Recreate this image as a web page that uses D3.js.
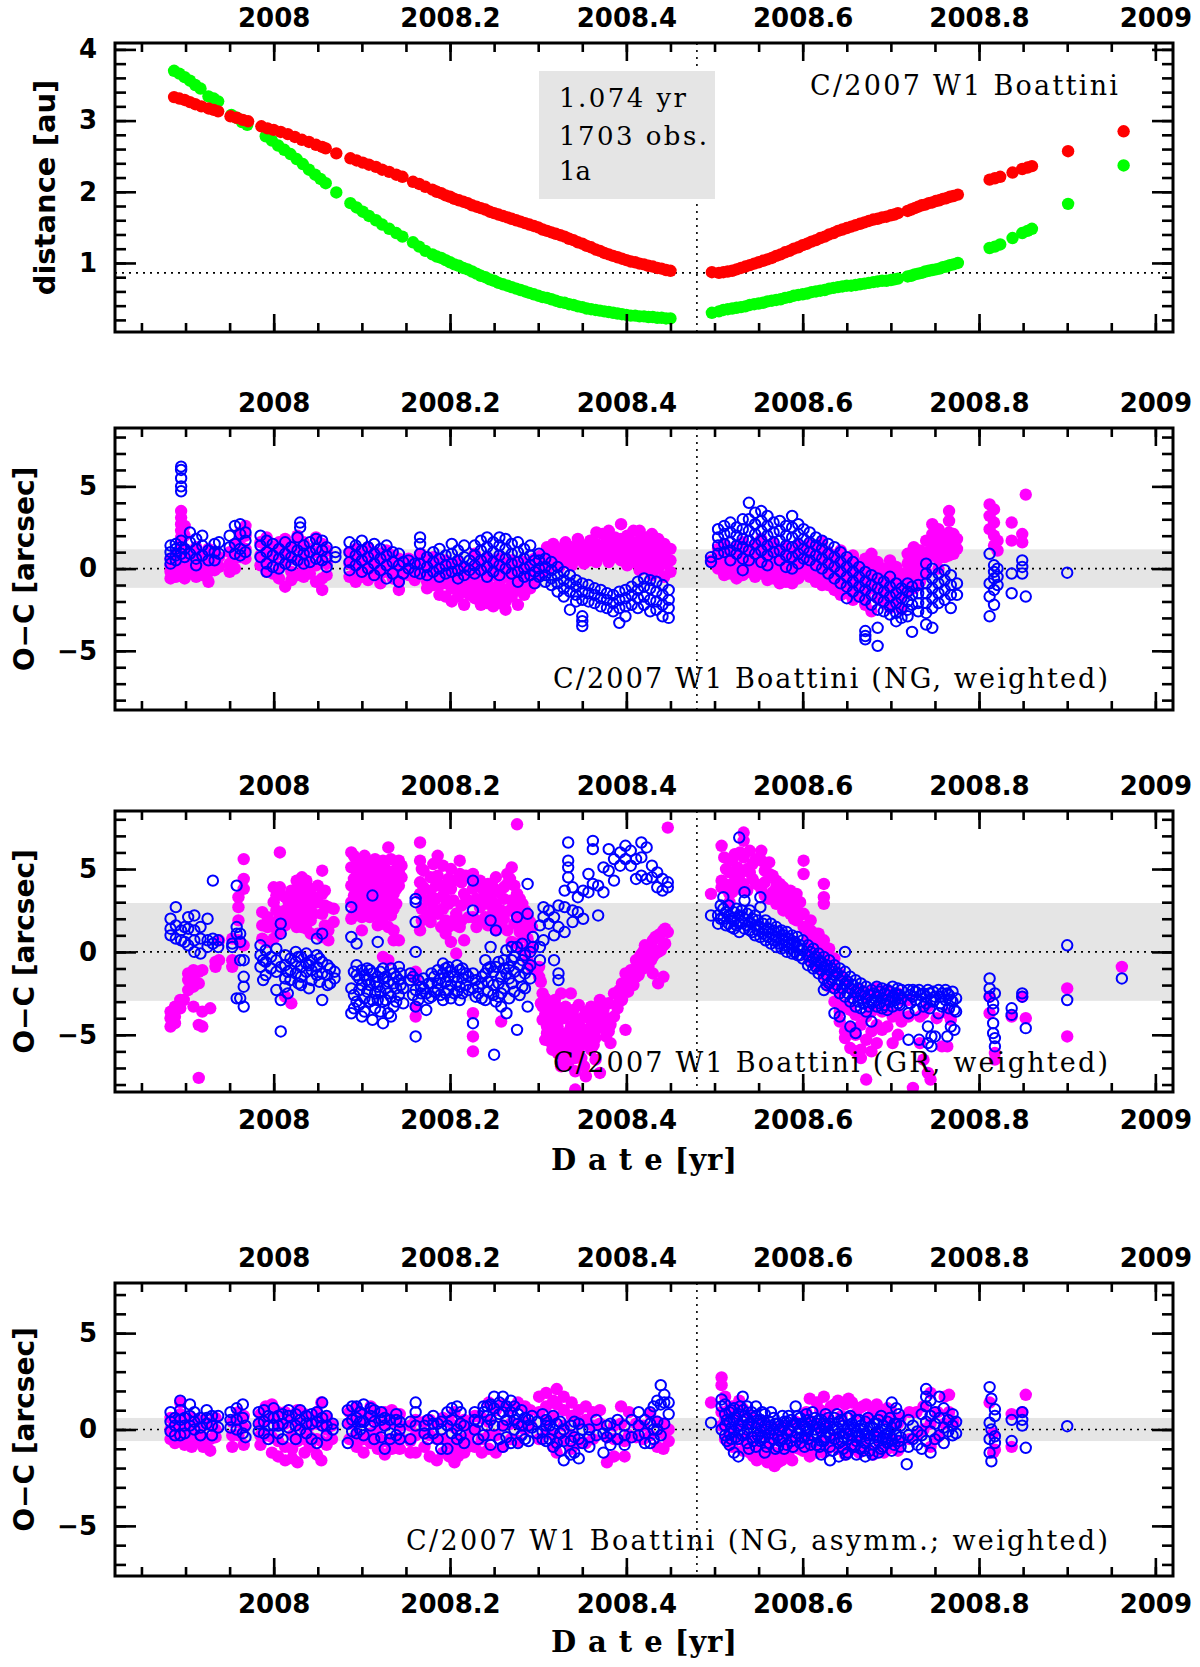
<!DOCTYPE html>
<html lang="en">
<head>
<meta charset="UTF-8">
<title>C/2007 W1 Boattini - distances and O-C residuals</title>
<script src="https://d3js.org/d3.v7.min.js"></script>
<style>
  body { margin: 0; background: #fff; }
  svg { display: block; }
</style>
</head>
<body>
<div id="chart"></div>
<script>
// ---- tick labels ----
const yearTicks = [2008, 2008.2, 2008.4, 2008.6, 2008.8, 2009];
const yearLabels = ["2008", "2008.2", "2008.4", "2008.6", "2008.8", "2009"];
const distTicks = [1, 2, 3, 4];
const distLabels = ["1", "2", "3", "4"];
const ocTicks = [-5, 0, 5];
const ocLabels = ["\u22125", "0", "5"];
const periTime = 2008.48;      // vertical dotted line
const qLine = 0.86;            // perihelion distance line

// ---- panel 1: distances [t, au] ----
const distHelio = [
  [2007.887,3.33],[2007.893,3.31],[2007.899,3.29],[2007.905,3.26],[2007.911,3.23],[2007.918,3.20],
  [2007.926,3.17],[2007.932,3.15],[2007.937,3.13],
  [2007.951,3.06],[2007.958,3.04],[2007.965,3.01],[2007.971,2.99],
  [2007.986,2.92],[2007.993,2.89],[2008.000,2.87],[2008.008,2.84],[2008.016,2.81],[2008.024,2.77],
  [2008.032,2.73],[2008.040,2.70],[2008.048,2.66],[2008.055,2.63],[2008.059,2.61],
  [2008.071,2.54],
  [2008.087,2.47],[2008.094,2.44],[2008.101,2.41],[2008.108,2.38],[2008.116,2.35],[2008.123,2.31],
  [2008.131,2.28],[2008.139,2.24],[2008.146,2.21],
  [2008.158,2.14],[2008.165,2.11],[2008.172,2.07],
  [2008.180,2.03],[2008.185,2.00],[2008.190,1.98],[2008.195,1.95],[2008.200,1.93],[2008.205,1.90],
  [2008.210,1.88],[2008.215,1.86],[2008.220,1.84],[2008.225,1.81],[2008.230,1.79],[2008.235,1.77],
  [2008.240,1.75],[2008.245,1.72],[2008.250,1.70],[2008.255,1.68],[2008.260,1.66],[2008.265,1.64],
  [2008.270,1.62],[2008.275,1.60],[2008.280,1.58],[2008.285,1.56],[2008.290,1.54],[2008.295,1.52],
  [2008.300,1.50],[2008.305,1.47],[2008.310,1.45],[2008.315,1.43],[2008.320,1.41],[2008.325,1.39],
  [2008.330,1.37],[2008.335,1.34],[2008.340,1.32],[2008.345,1.29],[2008.350,1.27],[2008.355,1.24],
  [2008.360,1.22],[2008.365,1.19],[2008.370,1.17],[2008.375,1.14],[2008.380,1.12],[2008.385,1.10],
  [2008.390,1.08],[2008.395,1.06],[2008.400,1.04],[2008.405,1.02],[2008.410,1.01],[2008.415,0.99],
  [2008.420,0.98],[2008.425,0.96],[2008.430,0.95],[2008.435,0.93],[2008.440,0.92],[2008.445,0.90],
  [2008.450,0.89],
  [2008.497,0.87],[2008.505,0.86],[2008.510,0.87],[2008.515,0.88],[2008.520,0.89],[2008.525,0.91],
  [2008.530,0.93],[2008.535,0.95],[2008.540,0.97],[2008.545,0.99],[2008.550,1.01],[2008.555,1.03],
  [2008.560,1.05],[2008.565,1.07],[2008.570,1.10],[2008.575,1.12],[2008.580,1.15],[2008.585,1.17],
  [2008.590,1.20],[2008.595,1.22],[2008.600,1.25],[2008.605,1.27],[2008.610,1.30],[2008.615,1.32],
  [2008.620,1.35],[2008.625,1.37],[2008.630,1.40],[2008.635,1.42],[2008.640,1.45],[2008.645,1.47],
  [2008.650,1.49],[2008.655,1.51],[2008.660,1.53],[2008.665,1.55],[2008.670,1.57],[2008.675,1.59],
  [2008.680,1.61],[2008.685,1.62],[2008.690,1.64],[2008.695,1.65],[2008.700,1.67],[2008.704,1.68],
  [2008.708,1.70],
  [2008.719,1.73],[2008.723,1.75],[2008.727,1.77],[2008.731,1.79],[2008.735,1.81],[2008.739,1.82],
  [2008.743,1.84],[2008.747,1.85],[2008.751,1.87],[2008.755,1.88],[2008.759,1.90],[2008.763,1.91],
  [2008.767,1.93],[2008.771,1.94],[2008.776,1.96],
  [2008.812,2.17],[2008.818,2.19],[2008.824,2.21],[2008.838,2.27],[2008.849,2.32],[2008.855,2.34],
  [2008.860,2.36],[2008.901,2.57],[2008.964,2.85]
];
const distGeo = [
  [2007.887,3.70],[2007.893,3.66],[2007.899,3.61],[2007.905,3.56],[2007.911,3.50],[2007.917,3.45],
  [2007.926,3.34],[2007.932,3.31],[2007.937,3.27],
  [2007.952,3.08],[2007.958,3.04],[2007.964,2.98],[2007.970,2.94],
  [2007.991,2.78],[2007.998,2.72],[2008.005,2.65],[2008.012,2.59],[2008.019,2.53],[2008.026,2.46],
  [2008.033,2.39],[2008.040,2.31],[2008.047,2.24],[2008.053,2.18],[2008.059,2.12],
  [2008.071,1.99],
  [2008.087,1.84],[2008.094,1.78],[2008.101,1.72],[2008.108,1.66],[2008.116,1.60],[2008.123,1.54],
  [2008.131,1.48],[2008.139,1.42],[2008.146,1.37],
  [2008.158,1.29],[2008.165,1.23],[2008.172,1.17],
  [2008.180,1.12],[2008.185,1.09],[2008.190,1.07],[2008.195,1.04],[2008.200,1.01],[2008.205,0.98],
  [2008.210,0.96],[2008.215,0.93],[2008.220,0.91],[2008.225,0.88],[2008.230,0.85],[2008.235,0.82],
  [2008.240,0.80],[2008.245,0.77],[2008.250,0.75],[2008.255,0.72],[2008.260,0.70],[2008.265,0.68],
  [2008.270,0.66],[2008.275,0.64],[2008.280,0.62],[2008.285,0.60],[2008.290,0.58],[2008.295,0.56],
  [2008.300,0.54],[2008.305,0.52],[2008.310,0.51],[2008.315,0.49],[2008.320,0.47],[2008.325,0.45],
  [2008.330,0.44],[2008.335,0.42],[2008.340,0.41],[2008.345,0.39],[2008.350,0.38],[2008.355,0.36],
  [2008.360,0.35],[2008.365,0.34],[2008.370,0.33],[2008.375,0.32],[2008.380,0.31],[2008.385,0.30],
  [2008.390,0.29],[2008.395,0.28],[2008.400,0.27],[2008.405,0.26],[2008.410,0.26],[2008.415,0.25],
  [2008.420,0.25],[2008.425,0.24],[2008.430,0.24],[2008.435,0.23],[2008.440,0.23],[2008.445,0.22],
  [2008.450,0.22],
  [2008.497,0.30],[2008.505,0.32],[2008.510,0.34],[2008.515,0.35],[2008.520,0.36],[2008.525,0.37],
  [2008.530,0.38],[2008.535,0.39],[2008.540,0.41],[2008.545,0.42],[2008.550,0.43],[2008.555,0.44],
  [2008.560,0.46],[2008.565,0.47],[2008.570,0.48],[2008.575,0.49],[2008.580,0.51],[2008.585,0.52],
  [2008.590,0.54],[2008.595,0.55],[2008.600,0.56],[2008.605,0.57],[2008.610,0.59],[2008.615,0.60],
  [2008.620,0.61],[2008.625,0.62],[2008.630,0.64],[2008.635,0.65],[2008.640,0.66],[2008.645,0.67],
  [2008.650,0.68],[2008.655,0.68],[2008.660,0.69],[2008.665,0.70],[2008.670,0.71],[2008.675,0.72],
  [2008.680,0.73],[2008.685,0.74],[2008.690,0.75],[2008.695,0.75],[2008.700,0.76],[2008.704,0.77],
  [2008.708,0.78],
  [2008.719,0.81],[2008.723,0.82],[2008.727,0.84],[2008.731,0.85],[2008.735,0.86],[2008.739,0.88],
  [2008.743,0.89],[2008.747,0.90],[2008.751,0.91],[2008.755,0.92],[2008.759,0.94],[2008.763,0.95],
  [2008.767,0.97],[2008.771,0.98],[2008.776,1.00],
  [2008.812,1.21],[2008.818,1.23],[2008.824,1.26],[2008.838,1.35],[2008.849,1.42],[2008.855,1.45],
  [2008.860,1.48],[2008.901,1.83],[2008.964,2.37]
];

// ---- O-C residuals, grouped as [time, [arcsec, ...]] ----
// panel 2: NG, weighted
const ngMagenta = [
  [2007.883,[0.6,0.2,-0.2,-0.6]],[2007.889,[0.9,0.5,0.0,-0.5]],
  [2007.895,[3.5,3.1,2.7,2.3,1.9,1.5,1.0,0.4,-0.3]],[2007.899,[2.6,2.0,1.2,0.6,-0.2,-0.6]],
  [2007.905,[1.0,0.4,-0.3]],[2007.912,[1.3,0.7,0.0,-0.5]],[2007.919,[0.8,0.2,-0.4]],
  [2007.926,[1.2,0.5,-0.2,-0.8]],[2007.933,[1.0,0.4,-0.1]],[2007.938,[0.7,0.1]],
  [2007.950,[1.0,0.3,-0.2]],[2007.956,[1.5,0.6,0.0]],[2007.962,[2.2,1.4,0.7]],[2007.968,[2.6,2.0,1.2,0.6]],
  [2007.985,[1.6,0.8,0.2]],[2007.992,[1.9,1.2,0.4,-0.2]],[2007.999,[1.3,0.6,-0.3]],
  [2008.006,[1.6,0.9,0.1,-0.6]],[2008.013,[1.8,1.1,0.3,-1.1]],[2008.020,[1.4,0.6,-0.2,-0.7]],
  [2008.027,[2.0,1.3,0.5,-0.4]],[2008.034,[1.6,0.8,0.0,-0.5]],[2008.041,[1.2,0.4,-0.3]],
  [2008.048,[1.9,1.0,0.2,-0.8]],[2008.055,[1.5,0.6,-0.6,-1.3]],[2008.060,[1.1,0.3,-0.4]],
  [2008.086,[1.0,0.3,-0.5]],[2008.093,[1.2,0.5,-0.2,-0.8]],[2008.100,[0.8,0.1,-0.5]],
  [2008.107,[1.3,0.6,-0.1,-0.7]],[2008.114,[1.0,0.2,-0.4]],[2008.121,[0.9,0.3,-0.3,-0.9]],
  [2008.128,[1.1,0.4,-0.2]],[2008.135,[0.8,0.1,-0.6]],[2008.142,[0.6,-0.1,-0.8,-1.3]],[2008.147,[0.5,-0.3]],
  [2008.153,[0.6,0.0,-0.4]],[2008.160,[0.4,-0.2,-0.7]],[2008.167,[0.9,0.2,-0.3]],
  [2008.174,[0.5,-0.2,-0.8,-1.2]],[2008.181,[0.7,0.0,-0.6,-1.0]],[2008.188,[0.3,-0.4,-1.0,-1.6]],
  [2008.195,[0.5,-0.2,-0.9,-1.7]],[2008.202,[0.2,-0.5,-1.2,-2.0]],[2008.209,[0.4,-0.3,-1.0,-1.7]],
  [2008.216,[0.1,-0.7,-1.4,-2.2]],[2008.222,[-0.2,-0.9,-1.6]],
  [2008.228,[0.9,0.2,-0.5,-1.2,-1.8]],[2008.235,[0.5,-0.2,-1.0,-1.7,-2.2]],
  [2008.242,[0.7,-0.1,-0.8,-1.5,-2.1]],[2008.249,[0.4,-0.4,-1.2,-1.9,-2.3]],
  [2008.256,[0.6,-0.1,-0.9,-1.6,-2.1]],[2008.263,[0.3,-0.5,-1.3,-2.0,-2.5]],
  [2008.270,[0.5,-0.2,-1.0,-1.7]],[2008.277,[0.2,-0.6,-1.3,-2.2]],[2008.284,[0.4,-0.3,-1.0,-1.6]],
  [2008.291,[0.1,-0.6,-1.2]],[2008.296,[0.6,-0.1,-0.8]],
  [2008.303,[0.8,0.2,-0.4]],[2008.310,[1.3,0.6,0.0]],[2008.317,[1.5,0.9,0.3]],[2008.324,[1.2,0.6,0.1]],
  [2008.331,[1.6,1.0,0.4]],[2008.338,[1.3,0.7,0.2]],[2008.345,[1.8,1.2,0.6]],[2008.352,[1.4,0.8,0.3]],
  [2008.359,[1.7,1.1,0.5]],[2008.366,[2.2,1.5,0.9,0.4]],[2008.373,[2.1,1.4,0.8]],
  [2008.380,[2.3,1.6,1.0,0.4]],[2008.387,[1.9,1.3,0.7]],[2008.394,[2.7,1.8,1.1,0.5]],
  [2008.401,[2.0,1.4,0.8,0.2]],[2008.408,[2.3,1.6,1.0,0.4]],[2008.415,[2.3,1.7,1.1,0.5,-0.1]],
  [2008.422,[1.9,1.3,0.7,0.1]],[2008.429,[2.1,1.5,0.9,0.2,-0.4]],[2008.436,[1.8,1.2,0.6,0.0]],
  [2008.443,[1.5,1.0,0.3,-0.5]],[2008.450,[1.2,0.5,-0.2]],
  [2008.496,[0.5]],
  [2008.504,[1.2,0.6,0.0]],[2008.511,[1.5,0.8,0.1,-0.4]],[2008.518,[1.0,0.3,-0.3]],
  [2008.525,[1.3,0.6,-0.1,-0.6]],[2008.532,[1.6,0.9,0.2,-0.4]],[2008.539,[1.1,0.4,-0.2]],
  [2008.546,[1.4,0.7,0.0,-0.5]],[2008.553,[1.8,1.0,0.3,-0.3]],[2008.560,[1.2,0.5,-0.1,-0.7]],
  [2008.567,[1.5,0.8,0.1,-0.6]],[2008.574,[1.0,0.3,-0.4,-0.9]],[2008.581,[1.3,0.6,-0.2,-0.8]],
  [2008.588,[0.9,0.2,-0.5,-0.9]],[2008.595,[1.4,0.7,0.0,-0.6]],[2008.601,[1.1,0.4,-0.3]],
  [2008.608,[1.5,0.8,0.1,-0.5]],[2008.615,[1.2,0.5,-0.2,-0.8]],[2008.622,[1.6,0.9,0.2,-0.5,-1.0]],
  [2008.629,[1.0,0.3,-0.4,-1.0]],[2008.636,[0.8,0.1,-0.6,-1.3]],[2008.643,[1.1,0.4,-0.3,-1.0,-1.6]],
  [2008.650,[0.5,-0.2,-0.9,-1.5]],[2008.657,[0.8,0.1,-0.6,-1.3,-1.9]],[2008.664,[0.3,-0.4,-1.1,-1.7]],
  [2008.671,[0.6,-0.1,-0.8,-1.5,-2.2]],[2008.678,[0.9,0.2,-0.5,-1.2,-2.6]],[2008.685,[0.4,-0.3,-1.0,-1.8]],
  [2008.692,[0.0,-0.7,-1.4,-2.1]],[2008.699,[0.5,-0.2,-0.9,-1.6,-2.4]],[2008.706,[0.1,-0.6,-1.3,-2.0]],
  [2008.712,[-0.3,-1.0,-1.7,-2.5]],
  [2008.719,[0.9,0.3,-0.3,-0.9,-1.4]],[2008.726,[1.3,0.6,0.0,-0.6,-1.2]],[2008.733,[1.1,0.4,-0.2,-0.8]],
  [2008.740,[1.7,1.0,0.4,-0.2]],[2008.747,[2.7,2.1,1.4,0.8]],[2008.754,[2.4,1.8,1.2,0.6,0.0]],
  [2008.761,[1.9,1.3,0.7]],[2008.766,[3.5,2.9,2.2,1.5,0.8]],[2008.771,[2.1,1.5,0.9]],[2008.775,[1.8,1.2]],
  [2008.812,[3.9,3.2,2.4]],[2008.817,[3.6,2.8,2.0,1.4]],[2008.821,[1.7,1.1]],
  [2008.837,[2.8,1.7]],[2008.849,[2.1,1.6]],[2008.853,[4.5]]
];
const ngBlue = [
  [2007.883,[1.4,1.0,0.6,0.3]],[2007.889,[1.5,1.2,0.8,0.5]],
  [2007.895,[6.2,6.0,5.5,5.0,4.7,1.7,1.3,0.9]],[2007.899,[1.2,0.7]],
  [2007.905,[2.2,1.6,0.9]],[2007.912,[1.8,1.2,0.6,0.2]],[2007.919,[2.0,1.4,0.8]],
  [2007.926,[1.1,0.5]],[2007.933,[1.5,1.0,0.5]],[2007.938,[1.6,0.9]],
  [2007.950,[2.0,1.3]],[2007.956,[2.6,1.5,0.9]],[2007.962,[2.7,2.1,1.2,0.8]],[2007.968,[2.2,1.7,1.0]],
  [2007.985,[2.0,1.4,0.7]],[2007.992,[1.7,1.0,0.3,-0.2]],[2007.999,[1.5,0.8,0.1]],
  [2008.006,[1.2,0.6,0.0]],[2008.013,[1.6,0.9,0.3]],[2008.020,[1.3,0.7,0.2]],
  [2008.027,[1.9,1.1,0.5]],[2008.030,[2.8,2.5]],[2008.034,[1.4,0.9,0.3]],[2008.041,[1.6,1.0,0.4]],
  [2008.048,[1.8,1.2,0.6]],[2008.055,[1.7,1.1,0.5]],[2008.060,[1.3,0.7,0.1]],[2008.070,[1.0,0.7]],
  [2008.086,[1.6,1.0,0.4,-0.1]],[2008.093,[1.4,0.8,0.2]],[2008.100,[1.7,1.1,0.5,-0.2]],
  [2008.107,[1.3,0.7,0.0]],[2008.114,[1.5,0.9,0.3,-0.4]],[2008.121,[1.2,0.6,-0.1]],
  [2008.128,[1.4,0.8,0.2,-0.6]],[2008.135,[1.0,0.4,-0.3]],[2008.142,[0.9,0.2,-0.8]],[2008.147,[0.4,-0.3]],
  [2008.153,[0.5,0.0]],[2008.160,[0.3,-0.2]],[2008.166,[1.9,1.5,0.9,0.3,-0.3]],
  [2008.174,[0.7,0.1,-0.4]],[2008.181,[1.0,0.4,-0.2]],[2008.188,[1.2,0.6,0.0,-0.5]],
  [2008.195,[0.8,0.2,-0.3]],[2008.202,[1.5,0.9,0.3,-0.2]],[2008.209,[1.1,0.5,-0.1,-0.6]],
  [2008.216,[1.4,0.7,0.1,-0.4]],[2008.222,[0.5,-0.1]],
  [2008.228,[1.4,0.8,0.2,-0.3]],[2008.235,[1.7,1.1,0.5,-0.1]],[2008.242,[1.9,1.3,0.7,0.1,-0.5]],
  [2008.249,[1.6,1.0,0.4,-0.2]],[2008.256,[1.9,1.4,0.8,0.2,-0.4]],[2008.263,[1.8,1.2,0.6,0.0]],
  [2008.270,[1.5,0.9,0.3,-0.3]],[2008.277,[1.6,1.0,0.4,-0.2,-0.8]],[2008.284,[1.2,0.6,0.0,-0.5]],
  [2008.291,[1.4,0.8,0.2,-0.4]],[2008.296,[0.5,-0.2,-0.9]],
  [2008.301,[0.9,0.5,0.0,-0.5]],[2008.308,[0.6,0.1,-0.4,-0.8]],[2008.315,[0.4,-0.1,-0.6,-1.0]],
  [2008.322,[0.1,-0.4,-0.9,-1.4]],[2008.329,[-0.2,-0.7,-1.2,-1.7]],[2008.336,[-0.4,-0.9,-1.4,-2.5]],
  [2008.343,[-0.7,-1.1,-1.6,-2.0]],[2008.350,[-0.9,-1.4,-1.9,-2.9,-3.2,-3.5]],
  [2008.357,[-1.0,-1.5,-2.0]],[2008.364,[-1.2,-1.6,-2.1]],[2008.371,[-1.3,-1.8,-2.3]],
  [2008.378,[-1.5,-1.9,-2.4]],[2008.385,[-1.6,-2.1,-2.6]],[2008.392,[-1.4,-1.9,-2.4,-3.3]],
  [2008.399,[-1.3,-1.8,-2.3,-2.9]],[2008.406,[-1.1,-1.6,-2.2]],[2008.413,[-0.8,-1.3,-1.8,-2.4]],
  [2008.420,[-0.6,-1.1,-1.7,-2.2]],[2008.427,[-0.7,-1.2,-1.9,-2.6]],[2008.434,[-0.8,-1.4,-2.0,-2.5]],
  [2008.441,[-1.0,-1.6,-2.2,-2.9]],[2008.448,[-1.3,-1.9,-2.4,-3.0]],
  [2008.496,[0.7,0.4]],
  [2008.504,[2.4,1.9,1.4,0.9]],[2008.511,[2.6,2.1,1.5,1.0]],[2008.518,[2.8,2.2,1.6,1.1,0.5]],
  [2008.525,[2.5,2.0,1.4,0.9]],[2008.532,[3.0,2.4,1.8,1.3,0.6,-0.1]],[2008.539,[4.0,3.0,2.3,1.7,1.1,0.5]],
  [2008.546,[3.4,2.7,2.1,1.5,0.9]],[2008.553,[3.5,2.9,2.3,1.7,1.1,0.4]],[2008.560,[3.2,2.6,2.0,1.4,0.8,0.2]],
  [2008.567,[2.8,2.2,1.6,1.0]],[2008.574,[2.9,2.3,1.7,1.1,0.5]],[2008.581,[2.6,2.0,1.4,0.8,0.1]],
  [2008.588,[3.2,2.5,1.9,1.3,0.7,0.0]],[2008.595,[2.7,2.1,1.5,0.9,0.3]],[2008.601,[2.4,1.8,1.2,0.6]],
  [2008.608,[2.2,1.6,1.0,0.5]],[2008.615,[1.9,1.4,0.8,0.2]],[2008.622,[1.7,1.2,0.6,0.0]],
  [2008.629,[1.5,0.9,0.3,-0.3]],[2008.636,[1.3,0.7,0.1,-0.6]],[2008.643,[1.0,0.4,-0.2,-0.9]],
  [2008.650,[0.7,0.1,-0.5,-1.1,-1.8]],[2008.657,[0.4,-0.2,-0.8,-1.4]],[2008.664,[0.1,-0.5,-1.1,-1.7]],
  [2008.671,[-0.2,-0.8,-1.3,-1.9,-3.8,-4.1,-4.3]],[2008.678,[-0.4,-1.0,-1.6,-2.2]],
  [2008.685,[-0.6,-1.2,-1.8,-2.5,-3.6,-4.7]],[2008.692,[-0.8,-1.4,-2.0,-2.6]],
  [2008.699,[-0.5,-1.1,-1.7,-2.3,-2.8]],[2008.706,[-0.9,-1.5,-2.1,-2.7,-3.2]],[2008.712,[-1.2,-1.8,-2.4,-3.0]],
  [2008.719,[-0.9,-1.4,-2.0,-2.5,-2.9]],[2008.724,[-1.1,-1.6,-2.2,-3.85]],[2008.731,[-1.0,-1.5,-2.1,-2.6]],
  [2008.740,[0.3,-0.3,-0.9,-1.5,-2.1,-2.7,-3.4]],[2008.747,[0.0,-0.6,-1.2,-1.8,-2.4,-3.6]],
  [2008.754,[-0.3,-0.9,-1.5,-2.1]],[2008.761,[-0.1,-0.7,-1.3,-1.9]],[2008.768,[-0.4,-1.0,-1.6,-2.4]],
  [2008.775,[-0.9,-1.6]],
  [2008.812,[0.9,-0.9,-1.7,-2.9]],[2008.817,[0.2,-0.2,-0.6,-1.3,-2.2]],[2008.821,[0.0,-0.5,-1.0]],
  [2008.837,[-0.3,-1.5]],[2008.849,[0.5,0.1,-0.3]],[2008.853,[-1.7]],
  [2008.900,[-0.25]]
];

// panel 3: GR, weighted
const grMagenta = [
  [2007.883,[-3.6,-4.0,-4.5]],[2007.888,[-3.3,-3.9,-4.3]],[2007.894,[-2.9,-3.4]],[2007.898,[-2.9]],
  [2007.903,[-1.3,-1.7,-2.3]],[2007.909,[-1.1,-1.5,-2.1,-3.3]],[2007.915,[-1.2,-1.9,-4.4,-7.6]],
  [2007.919,[-1.1,-3.6,-4.5]],[2007.928,[-3.4]],[2007.934,[-0.6,-0.9]],[2007.938,[0.7,-0.5]],
  [2007.953,[0.8,-0.5,-0.9]],[2007.960,[3.3,2.7,1.9,0.7]],[2007.966,[5.6,4.4,3.8,0.4]],
  [2007.987,[2.4,1.6,0.8]],[2007.993,[2.1,1.5,0.6]],[2008.000,[3.9,3.0,1.5,0.8]],
  [2008.003,[3.4,2.5,1.8]],[2008.007,[6.0,3.9,3.5,2.1,1.2]],[2008.013,[3.3,2.5,1.6,-2.7]],
  [2008.017,[3.0,2.2]],[2008.020,[3.7,2.8,2.0,-3.1]],[2008.023,[3.5,2.6,1.8]],
  [2008.026,[4.3,3.2,2.4,1.5]],[2008.029,[3.9,2.9,1.9]],[2008.032,[4.5,3.6,2.1,1.5]],
  [2008.035,[3.2,2.7]],[2008.037,[4.3,3.7,2.3,1.4]],
  [2008.042,[3.8,2.7,1.9,1.1]],[2008.045,[3.3,2.3]],[2008.050,[4.0,3.0,1.1]],[2008.055,[4.9,3.5,2.3,0.9]],
  [2008.058,[3.7,2.8,1.6]],[2008.062,[2.7,1.3,0.7]],[2008.068,[2.6,1.8]],
  [2008.088,[6.0,5.1,4.0,3.0,2.0]],[2008.091,[5.8,4.4,3.4,2.3]],[2008.094,[5.5,4.6,3.6,2.6]],
  [2008.097,[5.2,4.0,2.9]],[2008.100,[5.0,4.2,3.2,2.1,1.3]],[2008.103,[5.8,4.6,3.6,2.7]],
  [2008.106,[5.5,4.8,3.9,2.8]],[2008.109,[5.1,4.3,3.1,2.1]],[2008.112,[4.9,4.1,3.4,2.4]],
  [2008.115,[5.6,4.6,3.0]],[2008.118,[5.2,4.5,3.7,2.6,1.6]],[2008.121,[4.9,4.0,2.9,2.1]],
  [2008.124,[5.5,4.6,3.3,1.7,-0.3]],[2008.127,[5.0,3.9,2.6]],[2008.130,[6.3,4.7,3.7,1.5,-0.5]],
  [2008.133,[5.6,4.2,3.1,2.2]],[2008.136,[4.4,3.5,2.6,1.3,0.7]],[2008.139,[5.0,3.8,2.9]],
  [2008.142,[5.5,4.8,4.0,0.7]],[2008.145,[5.2,4.5]],
  [2008.161,[-1.2,-1.6,-3.3,-3.9]],[2008.166,[6.6,5.5,4.2,3.5,1.3]],[2008.168,[5.0,2.6,1.9]],
  [2008.170,[4.9,3.9]],[2008.175,[3.1,2.2]],[2008.178,[4.5,3.7,1.8]],[2008.181,[5.3,2.7]],
  [2008.184,[4.0,3.2]],[2008.186,[5.8,4.6,2.3]],[2008.190,[4.0,1.5]],[2008.192,[5.2,3.4,2.6]],
  [2008.195,[3.2,1.9,1.1]],[2008.198,[4.4,2.9,1.5]],[2008.201,[5.0,3.8,0.6]],[2008.204,[4.3,3.1,1.9]],
  [2008.207,[2.3,1.6,-0.1]],[2008.211,[5.5,4.7,1.5]],[2008.213,[4.2,2.8,1.9]],[2008.216,[3.5,0.7]],
  [2008.218,[4.6,3.0]],[2008.221,[4.5,3.1,2.1]],
  [2008.226,[4.7,3.8,2.1,-3.7,-5.1,-6.0]],[2008.230,[4.0,3.2,1.5]],[2008.234,[4.3,2.7]],
  [2008.237,[3.8,3.1,1.9]],[2008.240,[3.6,2.1]],[2008.243,[4.1,2.9,1.6]],
  [2008.246,[3.3,1.8]],[2008.249,[3.9,2.4]],[2008.252,[4.5,2.9,1.3]],[2008.255,[3.6,2.2]],
  [2008.258,[2.5,1.7,-4.2]],[2008.261,[3.9,3.2,2.0]],[2008.265,[4.7,4.1,1.3]],[2008.268,[4.4,2.5]],
  [2008.270,[5.1,3.1,0.6]],[2008.273,[4.0,2.8,1.7]],[2008.276,[7.7,3.5,2.2,0.5]],[2008.279,[3.2,2.6,1.2]],
  [2008.282,[2.9,1.6,0.1]],[2008.285,[2.5,1.2]],[2008.288,[2.1,0.8,-0.5]],[2008.291,[1.8,0.4]],
  [2008.293,[1.5,0.2,-1.0]],
  [2008.301,[-0.9,-1.5]],[2008.303,[-1.8,-3.1]],[2008.305,[-2.5,-3.3,-4.1]],[2008.308,[-2.8,-3.8,-5.3]],
  [2008.310,[-3.0,-4.5,-4.9]],[2008.313,[-3.3,-4.2,-5.4]],[2008.316,[-3.7,-5.1,-5.9]],
  [2008.319,[-2.9,-4.8,-5.6]],[2008.322,[-3.9,-4.5,-6.1]],[2008.324,[-3.4,-5.0]],
  [2008.326,[-2.5,-5.5,-6.9]],[2008.329,[-4.0,-5.8,-6.6]],[2008.331,[-3.3,-4.9,-6.1]],
  [2008.334,[-3.8,-5.2,-6.8]],[2008.337,[-2.5,-4.5,-5.5]],[2008.340,[-3.5,-5.0,-6.0]],
  [2008.342,[-4.0,-6.4,-7.2,-8.3]],[2008.346,[-3.2,-4.4,-5.9]],[2008.349,[-4.6,-5.4,-6.4]],
  [2008.352,[-3.9,-4.9,-6.9]],[2008.354,[-3.6,-5.1,-7.5]],[2008.357,[-4.0,-5.6]],
  [2008.360,[-3.3,-4.5,-5.9]],[2008.363,[-4.2,-4.9,-5.6]],[2008.365,[-3.7,-5.2,-6.5]],
  [2008.368,[-3.4,-4.6]],[2008.370,[-2.9,-4.2,-7.3]],[2008.374,[-3.5,-4.6]],[2008.377,[-4.0,-5.1]],
  [2008.380,[-3.1,-4.8]],[2008.382,[-4.4,-5.5]],[2008.386,[-2.5,-3.9]],[2008.390,[-3.4]],
  [2008.392,[-2.3,-3.0]],[2008.395,[-1.9,-2.9]],[2008.399,[-1.3,-4.7]],[2008.402,[-1.6,-2.4]],
  [2008.405,[-1.1,-1.9]],[2008.408,[-1.1,-2.0]],[2008.411,[-0.5,-1.5]],[2008.414,[-0.6,-1.4]],
  [2008.416,[-0.2,-0.9]],[2008.419,[0.0,-1.0]],[2008.421,[0.4,-0.6]],
  [2008.425,[0.1,-0.9]],[2008.428,[0.4,-0.5]],[2008.430,[0.7,-0.3,-1.3]],[2008.433,[0.9,-0.1]],
  [2008.436,[1.0,0.0,-1.9]],[2008.439,[1.1,0.1]],[2008.442,[1.3,0.4,-1.5]],[2008.444,[1.4,0.5]],
  [2008.447,[7.5,1.2]],
  [2008.496,[3.5]],
  [2008.508,[6.4,4.3,3.9]],[2008.511,[5.7,4.1]],[2008.513,[5.0,3.8]],[2008.517,[4.8,3.5,3.0]],
  [2008.520,[5.5,4.1,3.6]],[2008.523,[5.9,4.6]],[2008.526,[5.1,4.5]],[2008.529,[6.0,4.7,3.8]],
  [2008.533,[7.2,6.7,5.7,4.1]],[2008.537,[5.0,3.7]],[2008.540,[6.1,4.8]],[2008.543,[5.3,4.4]],
  [2008.547,[5.6,4.1]],[2008.553,[6.1,5.5,3.8]],[2008.557,[4.9,4.2,3.4]],[2008.562,[5.4,4.7,3.2]],
  [2008.566,[4.6,3.6]],[2008.570,[4.3,3.9,2.9]],[2008.574,[4.1,3.4]],[2008.578,[3.9,3.2,2.5]],
  [2008.582,[3.5,2.8]],[2008.586,[3.7,3.1,2.3]],[2008.590,[3.3,2.0]],[2008.593,[3.5,2.7,1.9]],
  [2008.597,[3.0,2.2]],[2008.601,[5.5,4.7,2.3,1.5]],
  [2008.606,[0.9,0.3,-0.3]],[2008.609,[1.9,1.3]],[2008.612,[0.6,0.0,-0.6]],
  [2008.615,[1.1]],[2008.618,[1.1,0.4,-0.2,-0.9]],[2008.624,[4.1,3.3,2.9,0.7,-0.1,-0.8,-1.4]],
  [2008.630,[0.2,-0.5,-1.3,-2.1]],[2008.636,[-0.4,-1.1,-2.2,-3.0]],[2008.642,[-1.3,-2.5,-3.6,-4.2]],
  [2008.648,[-1.7,-3.2,-4.8,-5.2]],[2008.654,[-2.2,-3.5,-4.6,-5.8]],[2008.660,[-2.6,-3.8,-5.0,-6.0]],
  [2008.666,[-2.3,-4.4,-5.9,-6.4]],[2008.672,[-2.8,-3.9,-5.3,-7.7]],[2008.678,[-2.4,-3.6,-4.8,-6.0]],
  [2008.684,[-2.2,-3.3,-4.4,-5.5]],[2008.690,[-2.6,-3.6,-4.7]],[2008.696,[-2.3,-3.4,-4.5]],
  [2008.702,[-2.8,-3.9,-5.5]],[2008.708,[-2.5,-3.7,-5.0]],[2008.712,[-2.9,-4.2]],
  [2008.720,[-2.9,-3.9]],[2008.725,[-8.2]],[2008.733,[-3.9,-5.5]],[2008.737,[-3.7,-6.5]],
  [2008.742,[-3.3,-7.3]],[2008.745,[-7.7]],[2008.752,[-4.0]],[2008.758,[-5.7]],
  [2008.764,[-3.7,-5.7]],[2008.768,[-4.1]],
  [2008.812,[-2.7,-3.7]],[2008.818,[-6.1,-6.5]],
  [2008.837,[-3.9]],[2008.849,[-2.7]],[2008.853,[-4.0]],
  [2008.900,[-2.2,-5.1]],[2008.962,[-0.9]]
];
const grBlue = [
  [2007.883,[2.0,1.4,1.0]],[2007.889,[2.7,1.6,0.8]],[2007.895,[1.3,0.7]],[2007.899,[1.5,0.6]],
  [2007.903,[2.1,1.4,0.4]],[2007.910,[2.2,1.3,0.7,0.0]],[2007.917,[1.5,0.8,-0.1]],
  [2007.925,[2.0,0.7,0.3]],[2007.931,[4.3,0.8,0.5]],[2007.937,[0.7,0.3]],
  [2007.953,[0.5,0.3]],[2007.958,[4.0,1.5,1.1,-2.8]],[2007.962,[1.1,0.6,-0.5,-2.8]],
  [2007.966,[-0.5,-1.5,-2.1,-3.3]],
  [2007.985,[0.4,-0.2,-0.9]],[2007.988,[-0.5,-1.7]],[2007.991,[0.1,-0.6,-1.4]],[2007.997,[-0.3,-1.0]],
  [2008.003,[0.2,-0.5,-1.2,-2.3]],[2008.008,[1.7,1.1,-0.9,-2.9,-4.8]],[2008.013,[-0.2,-0.8,-1.6,-2.1]],
  [2008.016,[-1.2,-2.5]],[2008.019,[-0.4,-1.1,-1.7]],[2008.025,[0.0,-0.6,-1.3]],[2008.028,[-0.3,-1.9]],
  [2008.031,[-0.3,-0.9,-1.5,-2.0]],[2008.037,[-0.1,-0.7,-1.2]],[2008.040,[-0.8,-2.2]],
  [2008.043,[-0.5,-1.1,-1.7]],[2008.049,[0.8,-0.2,-0.9,-1.4]],[2008.052,[-0.4,-1.8]],
  [2008.055,[1.1,-0.6,-1.3,-2.9]],[2008.061,[-0.8,-1.4,-2.0]],[2008.064,[-1.0,-1.9]],[2008.069,[-1.2,-1.6]],
  [2008.088,[2.7,0.9,-2.2,-3.7]],[2008.091,[-1.2,-2.6,-3.4]],[2008.094,[0.5,-0.8,-1.4,-3.0]],
  [2008.097,[-1.6,-2.3,-3.2]],[2008.100,[-1.1,-2.0,-3.9]],[2008.103,[-1.4,-2.8,-3.6]],
  [2008.106,[-1.0,-1.7,-2.4]],[2008.109,[-1.1,-2.0,-3.0]],[2008.112,[3.4,-1.3,-2.9,-4.1]],
  [2008.115,[-1.8,-2.5,-3.4]],[2008.118,[0.6,-1.5,-2.1,-2.9]],[2008.121,[-1.2,-2.4,-3.6]],
  [2008.124,[-1.0,-1.6,-3.0,-4.3]],[2008.127,[-1.5,-2.2,-2.9]],[2008.130,[-1.8,-2.5,-3.7]],
  [2008.133,[-1.0,-2.7,-3.9]],[2008.136,[-1.3,-1.9,-3.3]],[2008.139,[-1.5,-2.2,-3.0]],
  [2008.142,[-0.9,-1.7,-2.6]],[2008.144,[-1.3,-2.0]],[2008.147,[-2.2,-3.1]],
  [2008.155,[-1.3,-1.7]],[2008.158,[-1.5,-2.6]],[2008.161,[3.2,3.0,1.8,0.0,-2.3,-3.3,-5.1]],
  [2008.164,[-1.7,-2.9]],[2008.167,[-2.1,-2.5]],[2008.170,[-1.6,-2.2]],
  [2008.173,[-2.5,-3.5]],[2008.176,[-1.9,-2.8]],[2008.179,[-1.3,-1.9,-2.7]],[2008.182,[-1.5,-2.4]],
  [2008.186,[-1.1,-1.9,-2.3]],[2008.189,[-1.6,-2.6]],[2008.192,[-0.7,-1.3,-2.9]],
  [2008.195,[-1.0,-1.8,-2.5]],[2008.198,[-0.9,-1.5,-2.3]],[2008.201,[-1.2,-2.0,-2.8]],
  [2008.205,[-1.5,-2.5]],[2008.208,[-0.8,-1.8,-2.4]],[2008.211,[-1.1,-2.1,-2.9]],
  [2008.214,[-1.0,-1.6,-2.5]],[2008.218,[-1.3,-2.0]],[2008.221,[-1.5,-2.3]],
  [2008.226,[4.3,2.5,-1.3,-2.2,-4.3]],[2008.229,[-1.7,-2.7]],[2008.232,[-2.1,-2.5]],
  [2008.236,[-1.5,-1.9,-2.8]],[2008.240,[-0.5,-1.3,-2.9]],[2008.243,[-1.0,-1.8,-2.4]],
  [2008.246,[1.9,0.3,-0.9]],[2008.249,[-1.2,-2.0,-2.6]],[2008.250,[-6.2]],[2008.252,[1.3,-0.9,-3.0]],
  [2008.255,[-0.6,-1.9,-2.7]],[2008.258,[-1.5,-2.5,-3.3]],[2008.261,[-0.5,-1.0,-2.2]],
  [2008.264,[0.1,-1.3,-3.7]],[2008.267,[-0.9,-1.6,-2.8]],[2008.270,[0.3,-0.5,-1.9]],
  [2008.273,[-0.3,-1.2,-2.4]],[2008.276,[2.1,0.3,-4.7]],[2008.279,[-0.8,-1.5,-2.6]],
  [2008.282,[0.5,-0.5,-2.1]],[2008.285,[-0.2,-1.3,-2.2]],[2008.288,[4.1,2.3,-1.0,-3.3]],
  [2008.291,[0.0,-0.8,-1.6]],[2008.294,[0.9,0.3]],
  [2008.302,[1.6,0.3,-0.5]],[2008.306,[2.7,2.1,0.7]],[2008.312,[2.5,1.7]],[2008.318,[2.1,1.0,-0.5]],
  [2008.323,[2.8,1.5,-1.3,-1.7]],[2008.330,[3.7,2.7,1.2]],[2008.334,[6.6,5.5,5.1,4.5]],
  [2008.339,[3.9,2.5,1.8]],[2008.345,[3.3,2.4]],[2008.351,[3.7,2.0]],[2008.357,[4.7,3.6]],
  [2008.362,[6.7,6.2,4.1]],[2008.368,[4.0,2.2]],[2008.374,[5.1,3.6]],[2008.380,[6.2,4.9]],
  [2008.386,[5.6,4.3]],[2008.393,[6.0,5.2]],[2008.399,[6.4,5.6]],[2008.405,[6.1,5.2]],
  [2008.411,[5.6,4.4]],[2008.417,[6.6,5.7,4.6]],[2008.423,[6.3,4.4]],[2008.429,[5.2,4.5]],
  [2008.435,[4.8,3.9]],[2008.441,[4.4,3.7]],[2008.447,[4.2,3.9]],
  [2008.496,[2.2]],
  [2008.504,[2.2,1.7]],[2008.507,[2.8,2.0]],[2008.510,[3.3,2.6,2.0]],[2008.513,[2.4,1.6]],
  [2008.516,[2.8,2.2,1.7]],[2008.519,[2.0,1.5]],[2008.522,[2.4,1.9,1.4]],[2008.525,[2.6,1.6]],
  [2008.528,[6.9,2.2,1.7,1.2]],[2008.531,[2.5,1.8]],[2008.534,[3.6,3.1,2.0,1.4]],[2008.537,[2.3,1.6]],
  [2008.540,[2.5,1.8,1.3]],[2008.543,[2.0,1.2]],[2008.546,[2.2,1.6,1.0]],[2008.549,[1.9,1.3]],
  [2008.552,[3.3,2.7,1.5,0.9]],[2008.555,[1.7,1.1]],[2008.558,[1.9,1.3,0.7]],[2008.561,[1.4,0.9]],
  [2008.564,[1.7,1.1,0.5]],[2008.567,[1.3,0.7]],[2008.570,[1.5,0.9,0.3]],[2008.573,[1.2,0.5]],
  [2008.576,[1.3,0.8,0.2]],[2008.579,[1.0,0.4]],[2008.582,[1.2,0.6,0.0]],[2008.585,[0.8,0.2]],
  [2008.588,[1.0,0.5,-0.1]],[2008.591,[0.6,0.0]],[2008.594,[0.9,0.3,-0.2]],[2008.597,[0.4,-0.2]],
  [2008.600,[0.7,0.1,-0.4]],
  [2008.606,[0.4,-0.2,-0.8]],[2008.609,[0.0,-0.6]],[2008.612,[0.2,-0.4,-1.0]],[2008.615,[-0.3,-0.9]],
  [2008.618,[-0.1,-0.6,-1.3]],[2008.621,[-0.6,-1.1]],[2008.624,[-0.3,-0.9,-1.6,-2.3]],
  [2008.627,[-0.8,-1.4,-2.0]],[2008.630,[-0.5,-1.1,-1.9]],[2008.633,[-1.0,-1.7]],
  [2008.636,[-0.8,-1.4,-2.2,-3.7]],[2008.639,[-1.3,-2.0]],[2008.642,[-1.0,-1.7,-2.5,-3.9]],
  [2008.645,[-1.5,-2.2]],[2008.648,[0.0,-1.2,-1.9,-2.7]],[2008.651,[-1.8,-2.5]],
  [2008.654,[-1.5,-2.2,-3.0,-4.5]],[2008.657,[-2.0,-2.8]],[2008.660,[-1.7,-2.4,-3.3,-4.9]],
  [2008.663,[-2.2,-3.0]],[2008.666,[-1.9,-2.6,-3.4]],[2008.669,[-2.4,-3.1]],[2008.672,[-2.1,-2.8,-3.6]],
  [2008.675,[-2.6,-3.3]],[2008.678,[-2.3,-3.0,-4.2]],[2008.681,[-2.5,-3.0]],[2008.684,[-2.1,-2.7,-3.3]],
  [2008.687,[-2.4,-3.1]],[2008.690,[-2.2,-2.8,-3.4]],[2008.693,[-2.5,-3.2]],[2008.696,[-2.3,-2.9,-3.5]],
  [2008.699,[-2.4,-3.0]],[2008.702,[-2.1,-2.7,-3.3]],[2008.705,[-2.5,-2.9]],[2008.708,[-2.2,-2.6,-3.1]],
  [2008.710,[-2.6,-3.2]],[2008.712,[-2.3,-2.8]],
  [2008.720,[-2.3,-3.7,-5.3]],[2008.722,[-2.6,-3.1]],[2008.725,[-2.3,-2.7]],[2008.728,[-2.4,-2.9,-3.5]],
  [2008.732,[-2.3,-5.3]],[2008.734,[-2.6,-3.0]],[2008.737,[-2.5,-3.3]],[2008.740,[-2.7,-3.1]],
  [2008.742,[-2.3,-4.5,-5.5]],[2008.744,[-2.5,-3.4]],[2008.746,[-2.9,-5.1,-5.7]],[2008.748,[-2.4,-3.0]],
  [2008.750,[-2.7,-5.1]],[2008.754,[-2.3,-3.7]],[2008.756,[-2.7,-3.1]],[2008.758,[-2.5,-3.3]],
  [2008.762,[-2.3,-2.9]],[2008.764,[-2.5,-5.1]],[2008.766,[-2.6,-3.4]],[2008.768,[-2.9,-4.5]],
  [2008.770,[-2.4,-3.0]],[2008.772,[-3.5,-4.7]],[2008.774,[-2.8,-3.6]],
  [2008.812,[-1.6,-2.2,-2.7]],[2008.816,[-3.1,-3.5,-4.3,-4.9]],[2008.818,[-2.5,-5.2,-5.7]],
  [2008.837,[-3.4,-3.8]],[2008.849,[-2.5,-2.7]],[2008.853,[-4.6]],
  [2008.900,[0.4,-2.9]],[2008.962,[-1.6]]
];

// panel 4: NG, asymm., weighted
const asMagenta = [
  [2007.883,[0.6,0.0,-0.5]],[2007.888,[0.3,-0.3,-0.7]],[2007.894,[1.4,0.8,0.3,-0.4]],[2007.899,[0.2,-0.3,-0.8]],
  [2007.907,[0.6,0.2,-0.4,-0.9]],[2007.913,[0.4,-0.3,-0.6]],[2007.920,[0.5,0.2,-0.4,-0.9]],
  [2007.928,[0.3,-0.5,-1.1]],[2007.934,[0.6,0.0,-0.4]],
  [2007.953,[0.4,-0.3,-0.9]],[2007.960,[0.9,0.4,-0.3]],[2007.966,[0.7,0.1,-0.8]],
  [2007.985,[0.8,0.3,-0.3,-0.8]],[2007.991,[1.2,0.5,-0.3]],[2007.998,[1.3,0.6,-0.4,-1.2]],
  [2008.005,[0.9,0.2,-0.6,-1.4]],[2008.013,[0.9,0.3,-0.9,-1.6]],[2008.021,[0.7,-0.3,-1.0,-1.5]],
  [2008.027,[1.0,0.3,-0.6,-1.7]],[2008.035,[0.8,0.0,-0.5,-1.2]],[2008.041,[0.6,0.2,-0.4,-0.9]],
  [2008.049,[0.9,0.3,-0.5,-1.3]],[2008.054,[1.4,0.5,-0.6,-1.6]],[2008.060,[0.6,0.0,-0.8]],[2008.066,[0.2,-0.5]],
  [2008.086,[0.9,0.3,-0.5]],[2008.094,[1.1,0.4,-0.3,-0.9]],[2008.102,[0.8,0.4,-0.5,-1.2]],
  [2008.110,[1.2,0.6,-0.2,-0.7]],[2008.118,[0.9,0.2,-0.4,-1.0]],[2008.126,[0.9,0.3,-0.6,-1.3]],
  [2008.134,[1.0,0.4,-0.5,-1.0]],[2008.143,[0.8,0.2,-0.4,-1.0]],
  [2008.155,[0.2,-0.6,-1.2]],[2008.161,[0.5,-0.3,-1.2]],[2008.171,[0.4,-0.2,-0.9]],
  [2008.177,[0.5,-0.3,-1.4]],[2008.185,[0.3,-0.5,-1.6]],[2008.192,[0.6,-0.5,-1.2]],
  [2008.199,[0.4,-0.7,-1.4]],[2008.205,[0.9,0.1,-1.0,-1.7]],[2008.209,[0.2,-0.6,-1.4]],
  [2008.216,[0.5,-0.5,-1.2]],[2008.220,[0.2,-0.4,-0.9]],
  [2008.228,[0.7,0.0,-0.9]],[2008.236,[0.6,-0.5,-1.2]],[2008.244,[1.4,0.4,-0.3,-1.0]],
  [2008.252,[1.0,-0.3,-1.2]],[2008.260,[1.3,0.2,-0.9]],[2008.269,[1.1,0.3,-0.5]],
  [2008.277,[1.4,0.3,-0.6]],[2008.285,[1.2,0.4,0.0]],[2008.291,[1.0,0.3]],
  [2008.301,[1.7,0.9,-0.5]],[2008.309,[1.9,1.2,0.4,-0.2]],[2008.317,[1.5,0.6,-0.3,-0.9]],
  [2008.321,[2.1,1.3,-0.4,-1.2]],[2008.329,[1.7,1.0,0.2,-0.5]],[2008.338,[1.4,0.7,-0.3,-1.0]],
  [2008.346,[1.0,0.4,-0.7]],[2008.354,[1.2,0.5,-0.7]],[2008.362,[0.9,0.2,-0.5]],[2008.370,[1.0,0.3]],
  [2008.378,[-0.4,-1.7]],[2008.386,[0.2,-0.5,-1.4]],[2008.394,[1.2,0.3]],[2008.398,[-0.6,-1.4]],
  [2008.403,[0.9,-0.3]],[2008.411,[0.3,-0.4]],[2008.419,[0.2,-0.5]],[2008.427,[0.8,-0.3]],
  [2008.435,[0.4,-0.9]],[2008.442,[0.3,-0.2,-1.0]],[2008.448,[0.0,-0.6]],
  [2008.496,[1.4]],[2008.508,[2.7,2.3,0.9,0.2]],
  [2008.512,[1.7,0.6,-0.5]],[2008.516,[1.0,-0.3]],[2008.520,[1.2,0.0,-0.9]],[2008.524,[0.6,-0.5]],
  [2008.528,[1.5,0.3]],[2008.532,[1.1,-1.1]],[2008.536,[0.9,-0.4,-0.8]],[2008.540,[0.3,-1.2]],
  [2008.544,[0.5,-1.0,-1.4]],[2008.548,[-0.4,-1.6]],[2008.552,[0.2,-0.9,-1.4]],[2008.556,[0.4,-1.5]],
  [2008.560,[-0.3,-1.0,-1.7]],[2008.564,[-0.6,-1.4]],[2008.568,[0.1,-1.2,-1.9]],[2008.572,[-0.4,-1.7]],
  [2008.576,[-0.5,-1.6]],[2008.580,[0.2,-1.3]],[2008.584,[-0.8,-1.2]],[2008.588,[-0.3,-1.6]],
  [2008.592,[0.4,-0.9]],[2008.596,[0.3,-1.0]],[2008.600,[-0.6,-1.1]],[2008.604,[0.9,-0.4]],
  [2008.608,[1.6,-0.9,-1.4]],[2008.612,[0.4,-0.7]],[2008.616,[1.4,-1.2]],[2008.620,[1.0,0.0]],
  [2008.624,[1.7,-0.6,-1.2]],[2008.628,[0.5,-1.0]],[2008.632,[1.2,-0.8]],[2008.636,[1.3,-0.4]],
  [2008.640,[1.5,-1.0]],[2008.644,[0.7,-0.9]],[2008.648,[1.3,-1.3]],[2008.652,[1.6,-0.2]],
  [2008.656,[1.4,-0.7]],[2008.660,[0.8,-0.9]],[2008.664,[1.1,-1.2]],[2008.668,[1.2,-0.5]],
  [2008.672,[1.3,-0.9]],[2008.676,[0.6,-1.1]],[2008.680,[0.9,-1.3]],[2008.684,[1.3,-0.3]],
  [2008.688,[1.0,-0.8]],[2008.692,[0.6,-1.2]],[2008.696,[1.1,-1.0]],[2008.700,[1.0,-0.5]],
  [2008.704,[0.5,-0.9]],[2008.708,[0.3,-1.1]],[2008.711,[0.6,-0.6]],
  [2008.721,[0.9,-0.5]],[2008.729,[0.9,-0.3]],[2008.737,[1.2,0.0]],[2008.745,[1.9,0.3,-0.9]],
  [2008.753,[0.9,-0.4]],[2008.761,[1.7,0.3]],[2008.766,[1.8,0.9]],[2008.771,[0.4]],
  [2008.812,[1.4]],[2008.816,[-0.2,-1.2]],[2008.818,[-1.05]],
  [2008.837,[0.8,-0.9]],[2008.849,[0.9]],[2008.853,[1.8]]
];
const asBlue = [
  [2007.883,[0.9,0.4,-0.1]],[2007.888,[0.6,0.2,-0.3]],[2007.894,[1.5,1.0,0.5,-0.3]],[2007.899,[0.6,0.2,-0.2]],
  [2007.905,[1.3,0.7,0.2]],[2007.910,[0.9,0.4,0.0]],[2007.917,[0.6,0.1,-0.3]],
  [2007.924,[1.0,0.6,0.3]],[2007.930,[0.7,0.2,-0.3]],[2007.937,[0.7,0.1]],
  [2007.951,[0.9,0.5,0.1]],[2007.958,[1.1,0.5,0.0]],[2007.965,[1.3,0.6,-0.2]],[2007.968,[0.2,-0.4]],
  [2007.983,[0.9,0.3,-0.1]],[2007.989,[1.0,0.4,-0.2]],[2007.994,[0.7,0.2,-0.5]],
  [2008.000,[1.1,0.6,0.2]],[2008.005,[0.7,0.2,-0.2]],[2008.010,[0.8,0.3,-0.5]],
  [2008.017,[1.0,0.7,0.1]],[2008.025,[0.8,0.2,-0.5]],[2008.030,[1.0,0.5,0.0]],
  [2008.037,[0.7,0.3,-0.2]],[2008.043,[0.8,0.3,-0.5]],[2008.049,[0.9,0.4,-0.7]],
  [2008.055,[1.4,0.6,0.2]],[2008.060,[0.7,0.2,-0.3]],[2008.067,[0.3,0.0]],
  [2008.084,[1.0,0.3,-0.7]],[2008.089,[1.2,0.5,-0.1]],[2008.094,[1.2,0.6,-0.2]],
  [2008.098,[0.9,0.4,0.0]],[2008.102,[1.3,0.4,-0.3]],[2008.110,[1.1,0.7,0.2]],
  [2008.114,[1.0,0.4,-0.5]],[2008.122,[0.9,0.5,-0.4]],[2008.126,[0.6,0.2,-1.0]],
  [2008.132,[0.5,-0.2,-0.5]],[2008.139,[0.8,0.5,-0.3]],[2008.143,[0.4,0.0,-0.5]],
  [2008.155,[0.4,-0.5]],[2008.161,[1.4,0.9,0.2]],[2008.171,[0.2,-0.2]],[2008.175,[0.5,-0.5]],
  [2008.181,[0.7,0.3,-0.2]],[2008.186,[0.3,-0.5]],[2008.190,[0.4,0.0,-1.0]],
  [2008.197,[0.9,0.2,-1.0]],[2008.202,[1.1,0.5,-0.2]],[2008.208,[1.2,0.0,-0.5]],
  [2008.212,[0.9,0.3,-0.3]],[2008.216,[0.2,-0.7]],
  [2008.228,[0.9,0.5,0.0]],[2008.232,[0.4,-0.5]],[2008.238,[1.2,0.9,-0.3]],[2008.242,[1.2,0.7,0.2]],
  [2008.246,[1.3,0.5,-0.8]],[2008.250,[1.7,1.1,0.2]],[2008.256,[1.4,0.8,-0.5]],
  [2008.260,[1.7,0.9,0.2,-0.9]],[2008.264,[1.2,0.5,-0.4]],[2008.269,[1.5,0.9,-0.7]],
  [2008.273,[1.2,0.5,0.0]],[2008.277,[0.8,0.3,-0.7]],[2008.281,[1.0,0.2,-0.3]],
  [2008.285,[0.6,-0.5]],[2008.289,[0.5,0.2,-0.6]],[2008.293,[0.7,0.1]],
  [2008.299,[0.4,-0.2]],[2008.305,[0.8,-0.1,-0.5]],[2008.309,[0.5,0.2,-0.6]],[2008.313,[0.2,-0.5]],
  [2008.317,[0.7,0.0,-0.9]],[2008.321,[0.3,-0.7]],[2008.325,[0.4,-0.2,-1.1]],[2008.329,[0.0,-0.6,-1.6]],
  [2008.337,[0.2,-0.6,-1.3]],[2008.341,[0.4,-0.4,-1.2]],[2008.346,[0.3,-0.5,-1.5]],[2008.350,[0.0,-0.7]],
  [2008.358,[0.0,-0.4,-0.9]],[2008.366,[0.5,-0.3]],[2008.374,[-0.2,-1.2]],[2008.378,[0.2,-0.4]],
  [2008.382,[0.3,-0.2,-0.8]],[2008.390,[0.5,-0.5]],[2008.398,[0.2,-0.3,-0.8]],[2008.406,[0.5,-0.4]],
  [2008.414,[0.9,0.2,-0.3]],[2008.421,[0.5,-0.2,-0.7]],[2008.427,[0.9,0.3,-0.7]],
  [2008.431,[1.2,0.0,-0.5]],[2008.435,[1.5,0.4,0.0]],[2008.439,[2.3,1.3,-0.3]],
  [2008.443,[1.8,1.4,0.3]],[2008.448,[1.4,0.8]],
  [2008.496,[0.35]],[2008.508,[1.56,1.2,0.0]],
  [2008.512,[1.3,0.8,0.2,-0.3]],[2008.514,[0.5,-0.6]],[2008.517,[0.9,0.4,-0.2,-0.8]],
  [2008.519,[1.0,0.1,-0.5]],[2008.522,[1.1,0.5,-0.1,-1.2]],[2008.524,[0.6,-0.4]],
  [2008.527,[0.8,0.2,-0.5,-1.4]],[2008.529,[1.2,0.0]],[2008.532,[1.7,1.0,0.4,-0.3]],[2008.534,[0.7,-0.2]],
  [2008.537,[1.2,0.6,0.0,-0.7]],[2008.539,[0.3,-1.0]],[2008.542,[0.9,0.3,-0.4]],[2008.544,[0.6,-0.6]],
  [2008.547,[1.2,0.7,0.1,-0.9]],[2008.549,[0.3,-0.3]],[2008.552,[0.5,-0.1,-0.6]],[2008.554,[0.9,-0.4]],
  [2008.557,[0.8,0.2,-0.4,-1.2]],[2008.559,[0.0,-0.9]],[2008.562,[0.4,-0.2,-0.7]],[2008.564,[0.9,0.2]],
  [2008.567,[0.6,0.0,-0.5]],[2008.569,[0.3,-1.0]],[2008.572,[0.3,-0.3,-0.9]],[2008.574,[0.0,-0.6]],
  [2008.577,[0.7,0.1,-0.5]],[2008.579,[0.4,-1.0]],[2008.582,[0.4,-0.2,-0.8]],[2008.584,[0.7,0.0]],
  [2008.587,[0.5,-0.1,-0.6]],[2008.589,[0.2,-0.9]],[2008.592,[1.2,0.3,-0.4]],[2008.594,[0.7,-0.2]],
  [2008.597,[0.6,0.0,-0.7]],[2008.599,[0.3,-0.4]],[2008.602,[0.2,-0.4,-0.9]],[2008.604,[0.8,0.0]],
  [2008.606,[0.5,-0.1,-0.5]],[2008.609,[0.4,-0.8]],[2008.611,[0.9,0.2,-0.3]],[2008.614,[0.6,0.0]],
  [2008.616,[0.3,-0.2,-0.8]],[2008.619,[0.1,-0.9]],[2008.621,[0.5,-0.1,-0.6,-1.3]],[2008.624,[0.3,-0.6]],
  [2008.626,[0.8,0.2,-0.4]],[2008.629,[0.6,-0.1]],[2008.631,[0.3,-0.3,-0.9,-1.6]],[2008.634,[0.0,-1.1]],
  [2008.636,[0.6,0.0,-0.5]],[2008.639,[0.8,0.1]],[2008.641,[0.4,-0.2,-0.7,-1.4]],[2008.644,[0.5,-0.6]],
  [2008.646,[0.2,-0.4,-1.0]],[2008.649,[-0.2,-1.3]],[2008.651,[0.6,0.0,-0.5,-1.2]],[2008.654,[0.7,0.0]],
  [2008.656,[0.3,-0.3,-0.8]],[2008.659,[0.1,-0.9]],[2008.661,[0.5,-0.1,-0.6,-1.3]],[2008.664,[0.5,-0.3]],
  [2008.666,[0.2,-0.4,-1.0]],[2008.669,[0.0,-1.1]],[2008.671,[0.4,-0.2,-0.7,-1.4]],[2008.674,[0.6,-0.3]],
  [2008.676,[0.1,-0.5,-1.1]],[2008.679,[0.1,-1.3]],[2008.681,[0.3,-0.3,-0.8]],[2008.684,[0.3,-0.4]],
  [2008.686,[0.5,-0.1,-0.6,-1.2]],[2008.689,[0.7,-1.0]],[2008.691,[0.2,-0.4,-0.9]],[2008.694,[0.0,-0.5]],
  [2008.696,[0.4,-0.2,-0.7]],[2008.699,[0.6,-0.3]],[2008.701,[1.4,0.1,-0.5,-1.1]],[2008.704,[0.3,-0.8]],
  [2008.706,[1.1,0.3,-0.3]],[2008.709,[0.8,-0.6]],[2008.711,[0.2,-0.4,-0.9]],
  [2008.718,[-1.8]],[2008.720,[0.5,-0.3,-0.9]],[2008.725,[0.2,-0.5]],[2008.730,[-0.1,-0.8]],
  [2008.735,[0.8,-0.3,-1.0]],[2008.740,[2.1,1.7,1.2,0.4,-0.6]],[2008.745,[1.5,0.7,-0.1,-1.2]],
  [2008.750,[0.9,0.3,-0.5]],[2008.755,[1.7,0.6,-0.3]],[2008.760,[1.1,0.1,-0.7]],
  [2008.765,[0.5,-0.1]],[2008.770,[0.8,0.2,-0.3]],[2008.774,[0.4,-0.2]],
  [2008.812,[2.2,0.35,-0.5,-1.2]],[2008.814,[1.6,0.0,-1.65]],[2008.818,[1.05,0.7,-0.35,-0.7]],
  [2008.837,[0.5,-0.6]],[2008.849,[0.9,0.5,0.2]],[2008.853,[-0.95]],
  [2008.900,[0.17]]
];

// ---- layout ----
const width = 1200, height = 1667;
const plotLeft = 115, plotRight = 1173;
const tickFont = "'DejaVu Sans', sans-serif";
const serifFont = "'DejaVu Serif', serif";
const dotR = 6.2, ringR = 5.2;

const panels = [
  { top: 43, bottom: 332, domain: [0.03, 4.09], ticks: distTicks, labels: distLabels, minor: 0.2,
    ref: qLine, band: null, title: "distance [au]", titleX: 55, titleSize: 29, bottomLabels: false,
    series: [{ data: distGeo, color: "#00ff00", ring: false }, { data: distHelio, color: "#ff0000", ring: false }],
    name: "C/2007 W1 Boattini", nameX: 810, nameY: 95, nameW: 308 },
  { top: 428, bottom: 710, domain: [-8.6, 8.55], ticks: ocTicks, labels: ocLabels, minor: 1,
    ref: 0, band: 1.17, title: "O\u2212C [arcsec]", titleX: 34, titleSize: 28, bottomLabels: false,
    series: [{ data: ngMagenta, color: "#ff00ff", ring: false, cols: true }, { data: ngBlue, color: "#0000ff", ring: true, cols: true }],
    name: "C/2007 W1 Boattini (NG, weighted)", nameX: 553, nameY: 688, nameW: 555 },
  { top: 811, bottom: 1092, domain: [-8.45, 8.5], ticks: ocTicks, labels: ocLabels, minor: 1,
    ref: 0, band: 2.95, title: "O\u2212C [arcsec]", titleX: 34, titleSize: 28, bottomLabels: true, dateY: 1170,
    series: [{ data: grMagenta, color: "#ff00ff", ring: false, cols: true }, { data: grBlue, color: "#0000ff", ring: true, cols: true }],
    name: "C/2007 W1 Boattini (GR, weighted)", nameX: 553, nameY: 1072, nameW: 555 },
  { top: 1283, bottom: 1576, domain: [-7.6, 7.6], ticks: ocTicks, labels: ocLabels, minor: 1,
    ref: 0, band: 0.6, title: "O\u2212C [arcsec]", titleX: 34, titleSize: 28, bottomLabels: true, dateY: 1652,
    series: [{ data: asMagenta, color: "#ff00ff", ring: false, cols: true }, { data: asBlue, color: "#0000ff", ring: true, cols: true }],
    name: "C/2007 W1 Boattini (NG, asymm.; weighted)", nameX: 406, nameY: 1550, nameW: 702 }
];

const svg = d3.select("#chart").append("svg")
  .attr("width", width).attr("height", height)
  .style("background", "#fff");

const x = d3.scaleLinear().domain([2007.82, 2009.02]).range([plotLeft, plotRight]);
const minorYears = d3.range(2007.85, 2009.01, 0.05);

function styleAxis(a) {
  a.select(".domain").remove();
  a.selectAll("line").attr("stroke", "#000").attr("stroke-width", 2.6);
  a.selectAll("text")
    .attr("fill", "#000")
    .attr("font-family", tickFont)
    .attr("font-size", 26)
    .attr("font-weight", "bold");
}

function addAxis(g, gen, pos, vals, size, labels, pad) {
  const a = g.append("g").attr("transform", pos)
    .call(gen.tickValues(vals).tickSize(size).tickSizeOuter(0).tickPadding(pad || 0)
      .tickFormat((d, i) => labels ? labels[i] : ""));
  styleAxis(a);
  return a;
}

function drawPanel(p) {
  const y = d3.scaleLinear().domain(p.domain).range([p.bottom, p.top]);
  const g = svg.append("g");

  // rms band
  if (p.band) {
    g.append("rect")
      .attr("x", plotLeft).attr("width", plotRight - plotLeft)
      .attr("y", y(p.band)).attr("height", y(-p.band) - y(p.band))
      .attr("fill", "#e5e5e5");
  }

  // dotted reference lines
  g.append("line")
    .attr("x1", plotLeft).attr("x2", plotRight)
    .attr("y1", y(p.ref)).attr("y2", y(p.ref))
    .attr("stroke", "#000").attr("stroke-width", 1.6).attr("stroke-dasharray", "2,5");
  g.append("line")
    .attr("x1", x(periTime)).attr("x2", x(periTime))
    .attr("y1", p.top).attr("y2", p.bottom)
    .attr("stroke", "#000").attr("stroke-width", 1.6).attr("stroke-dasharray", "2,5");

  // points (clipped to the frame)
  const clipId = "clip" + p.top;
  g.append("clipPath").attr("id", clipId).append("rect")
    .attr("x", plotLeft).attr("y", p.top)
    .attr("width", plotRight - plotLeft).attr("height", p.bottom - p.top);
  p.series.forEach(s => {
    const pts = s.cols ? s.data.flatMap(([t, vs]) => vs.map(v => [t, v])) : s.data;
    const dots = g.append("g").attr("clip-path", `url(#${clipId})`)
      .selectAll("circle").data(pts).enter().append("circle")
      .attr("cx", d => x(d[0]))
      .attr("cy", d => y(d[1]));
    if (s.ring) {
      dots.attr("r", ringR).attr("fill", "none").attr("stroke", s.color).attr("stroke-width", 2);
    } else {
      dots.attr("r", dotR).attr("fill", s.color);
    }
  });

  // frame
  g.append("rect")
    .attr("x", plotLeft).attr("y", p.top)
    .attr("width", plotRight - plotLeft).attr("height", p.bottom - p.top)
    .attr("fill", "none").attr("stroke", "#000").attr("stroke-width", 3);

  // x ticks (inward) on top and bottom
  addAxis(g, d3.axisTop(x), `translate(0,${p.top})`, minorYears, -9, null);
  addAxis(g, d3.axisTop(x), `translate(0,${p.top})`, yearTicks, -18, yearLabels, 16);
  addAxis(g, d3.axisBottom(x), `translate(0,${p.bottom})`, minorYears, -9, null);
  addAxis(g, d3.axisBottom(x), `translate(0,${p.bottom})`, yearTicks, -18,
    p.bottomLabels ? yearLabels : null, 18.5);

  // y ticks (inward) on left and right
  const lo = Math.ceil(p.domain[0] / p.minor), hi = Math.floor(p.domain[1] / p.minor);
  const minorY = d3.range(lo, hi + 1).map(k => +(k * p.minor).toFixed(3));
  addAxis(g, d3.axisLeft(y), `translate(${plotLeft},0)`, minorY, -11, null);
  addAxis(g, d3.axisLeft(y), `translate(${plotLeft},0)`, p.ticks, -21, p.labels, 18);
  addAxis(g, d3.axisRight(y), `translate(${plotRight},0)`, minorY, -11, null);
  addAxis(g, d3.axisRight(y), `translate(${plotRight},0)`, p.ticks, -21, null);

  // y title
  g.append("text")
    .attr("transform", `translate(${p.titleX},${(p.top + p.bottom) / 2}) rotate(-90)`)
    .attr("text-anchor", "middle")
    .attr("font-family", tickFont).attr("font-size", p.titleSize).attr("font-weight", "bold")
    .text(p.title);

  // object label
  g.append("text")
    .attr("x", p.nameX).attr("y", p.nameY)
    .attr("font-family", serifFont).attr("font-size", 27)
    .attr("textLength", p.nameW).attr("lengthAdjust", "spacing")
    .text(p.name);

  if (p.dateY) {
    g.append("text")
      .attr("x", 551).attr("y", p.dateY)
      .attr("font-family", serifFont).attr("font-size", 29).attr("font-weight", "bold")
      .attr("textLength", 186).attr("lengthAdjust", "spacing")
      .text("D a t e [yr]");
  }
}

panels.forEach(drawPanel);

// info box in the distance panel
const info = svg.append("g");
info.append("rect")
  .attr("x", 539).attr("y", 71).attr("width", 176).attr("height", 128)
  .attr("fill", "#e5e5e5");
const infoLines = [["1.074 yr", 107, 127], ["1703 obs.", 145, 148], ["1a", 180, null]];
infoLines.forEach(([txt, yy, w]) => {
  const t = info.append("text")
    .attr("x", 559).attr("y", yy)
    .attr("font-family", serifFont).attr("font-size", 26)
    .text(txt);
  if (w) t.attr("textLength", w).attr("lengthAdjust", "spacing");
});
</script>
</body>
</html>
